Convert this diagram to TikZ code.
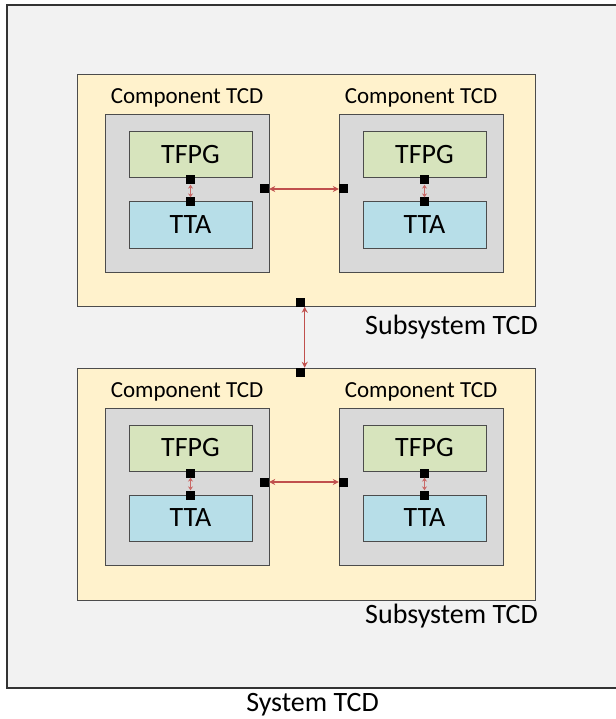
\documentclass[tikz,border=0pt]{standalone}
\usepackage{fontspec}
\setmainfont{Carlito}
\usetikzlibrary{arrows.meta}

\definecolor{sysbg}{HTML}{F2F2F2}
\definecolor{subbg}{HTML}{FFF2CC}
\definecolor{compbg}{HTML}{D9D9D9}
\definecolor{tfpgbg}{HTML}{D7E4BD}
\definecolor{ttabg}{HTML}{B7DEE8}
\definecolor{linkred}{HTML}{C0504D}

\tikzset{
  box/.style={draw=black!70, line width=1pt, inner sep=0pt},
  sq/.style={fill=black, minimum size=9pt, inner sep=0pt},
  link/.style={draw=linkred, line width=1.4pt, {Stealth[length=6pt,width=6pt]}-{Stealth[length=6pt,width=6pt]}},
  ilink/.style={draw=linkred!85!white, line width=1.2pt, {Stealth[length=4pt,width=5pt]}-{Stealth[length=4pt,width=5pt]}},
  lbl/.style={font=\fontsize{23}{27}\selectfont, inner sep=0pt, anchor=base},
  big/.style={font=\fontsize{28}{33}\selectfont}
}

\begin{document}
\begin{tikzpicture}[x=1pt, y=-1pt]
    \useasboundingbox (0,0) rectangle (615,719);
    % system and subsystems
    \node[box, fill=sysbg, draw=black!80, line width=1.5pt, minimum width=640pt, minimum height=683pt] (sys) at (327,346.5) {};
    \node[box, fill=subbg, minimum width=458pt, minimum height=231pt] (s1) at (306,190.5) {};
    \node[box, fill=subbg, minimum width=458pt, minimum height=232pt] (s2) at (306,484) {};
    % components, upper subsystem
    \node[box, fill=compbg, minimum width=164pt, minimum height=157pt] (c11) at (187,193.5) {};
    \node[box, fill=compbg, minimum width=164pt, minimum height=157pt] (c12) at (421,193.5) {};
    \node[box, fill=tfpgbg, minimum width=123pt, minimum height=46pt, big] (f11) at (190.5,155) {TFPG};
    \node[box, fill=ttabg, minimum width=123pt, minimum height=46pt, big] (t11) at (190.5,225) {TTA};
    \node[box, fill=tfpgbg, minimum width=123pt, minimum height=46pt, big] (f12) at (424.5,155) {TFPG};
    \node[box, fill=ttabg, minimum width=123pt, minimum height=46pt, big] (t12) at (424.5,225) {TTA};
    % components, lower subsystem
    \node[box, fill=compbg, minimum width=164pt, minimum height=157pt] (c21) at (187,486.5) {};
    \node[box, fill=compbg, minimum width=164pt, minimum height=157pt] (c22) at (421,486.5) {};
    \node[box, fill=tfpgbg, minimum width=123pt, minimum height=46pt, big] (f21) at (190.5,448) {TFPG};
    \node[box, fill=ttabg, minimum width=123pt, minimum height=46pt, big] (t21) at (190.5,518) {TTA};
    \node[box, fill=tfpgbg, minimum width=123pt, minimum height=46pt, big] (f22) at (424.5,448) {TFPG};
    \node[box, fill=ttabg, minimum width=123pt, minimum height=46pt, big] (t22) at (424.5,518) {TTA};
    % labels
    \node[lbl] (lc11) at (187,104) {Component TCD};
    \node[lbl] (lc12) at (421,104) {Component TCD};
    \node[lbl] (lc21) at (187,397) {Component TCD};
    \node[lbl] (lc22) at (421,397) {Component TCD};
    \node[lbl, big, anchor=base east] (ls1) at (538,334) {Subsystem TCD};
    \node[lbl, big, anchor=base east] (ls2) at (538,623) {Subsystem TCD};
    \node[lbl, big] (lsys) at (312.5,711) {System TCD};
    % ports
    \node[sq] (pf11) at (190.5,180) {};
    \node[sq] (pt11) at (190.5,202) {};
    \node[sq] (pf12) at (424.5,180) {};
    \node[sq] (pt12) at (424.5,202) {};
    \node[sq] (pf21) at (190.5,473) {};
    \node[sq] (pt21) at (190.5,495) {};
    \node[sq] (pf22) at (424.5,473) {};
    \node[sq] (pt22) at (424.5,495) {};
    \node[sq] (pc11) at (264.5,189) {};
    \node[sq] (pc12) at (343.5,189) {};
    \node[sq] (pc21) at (264.5,482) {};
    \node[sq] (pc22) at (343.5,482) {};
    \node[sq] (ps1) at (300,302) {};
    \node[sq] (ps2) at (300,372.5) {};
    % links
    \draw[ilink] (pf11) -- (pt11);
    \draw[ilink] (pf12) -- (pt12);
    \draw[ilink] (pf21) -- (pt21);
    \draw[ilink] (pf22) -- (pt22);
    \draw[link] (pc11) -- (pc12);
    \draw[link] (pc21) -- (pc22);
    \draw[link] (ps1.south east) -- (ps2.north east);
  \end{tikzpicture}
\end{document}
